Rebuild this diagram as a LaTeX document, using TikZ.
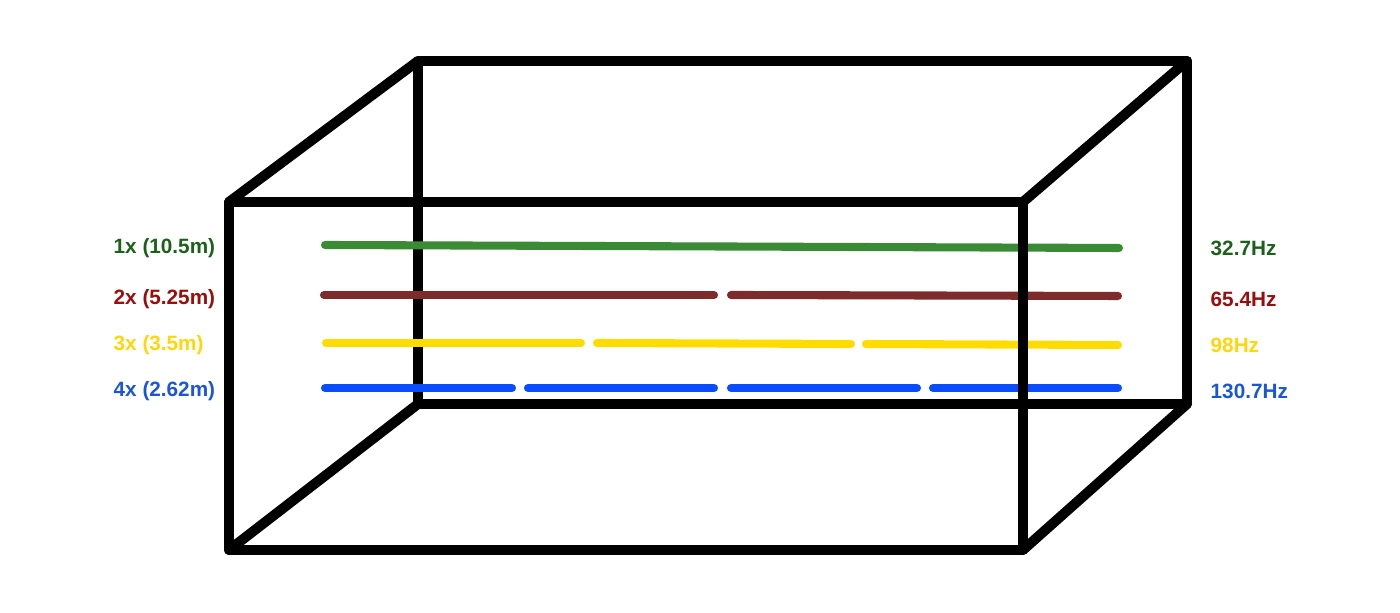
\documentclass[tikz,border=0pt]{standalone}
\usepackage{fontspec}
\setmainfont{Liberation Sans}
\definecolor{lgreen}{HTML}{3B8A35}
\definecolor{tgreen}{HTML}{1C611A}
\definecolor{lred}{HTML}{7D2B2B}
\definecolor{tred}{HTML}{990D0D}
\definecolor{lyellow}{HTML}{FFDC00}
\definecolor{tyellow}{HTML}{FFD60A}
\definecolor{lblue}{HTML}{0A4CFF}
\definecolor{tblue}{HTML}{1A56D8}
\begin{document}
\begin{tikzpicture}[x=1mm,y=1mm,
    edge/.style={line width=2.85pt, line cap=round, line join=round},
    wave/.style={line width=2.3pt, line cap=round},
    lbl/.style={font=\fontsize{5.9}{7}\selectfont\bfseries, inner sep=0pt}]
    \useasboundingbox (0,0) rectangle (140,61.3);

    % box corners
    \coordinate (ftl) at (22.9,41.1);
    \coordinate (ftr) at (102.3,41.1);
    \coordinate (fbr) at (102.3,6.3);
    \coordinate (fbl) at (22.9,6.3);
    \coordinate (btl) at (41.8,55.2);
    \coordinate (btr) at (118.7,55.2);
    \coordinate (bbr) at (118.7,20.9);
    \coordinate (bbl) at (41.8,20.9);

    % back face
    \draw [edge] (btl) -- (btr) -- (bbr) -- (bbl) -- cycle;

    % standing waves
    \draw [wave, lgreen] (32.5,36.8) -- (111.9,36.5);

    \draw [wave, lred] (32.4,31.8) -- (71.4,31.8);
    \draw [wave, lred] (73.1,31.8) -- (111.8,31.7);

    \draw [wave, lyellow] (32.6,27.0) -- (58.1,27.0);
    \draw [wave, lyellow] (59.7,27.0) -- (85.1,26.9);
    \draw [wave, lyellow] (86.6,26.9) -- (111.8,26.8);

    \draw [wave, lblue] (32.5,22.5) -- (51.2,22.5);
    \draw [wave, lblue] (52.8,22.5) -- (71.4,22.5);
    \draw [wave, lblue] (73.1,22.5) -- (91.7,22.5);
    \draw [wave, lblue] (93.3,22.5) -- (111.8,22.5);

    % front face and depth edges
    \draw [edge] (ftl) -- (ftr) -- (fbr) -- (fbl) -- cycle;
    \draw [edge] (ftl) -- (btl);
    \draw [edge] (ftr) -- (btr);
    \draw [edge] (fbr) -- (bbr);
    \draw [edge] (fbl) -- (bbl);

    % labels
    \node [lbl, tgreen, anchor=west] (m1) at (11.3,36.45) {1x (10.5m)};
    \node [lbl, tred, anchor=west] (m2) at (11.3,31.4) {2x (5.25m)};
    \node [lbl, tyellow, anchor=west] (m3) at (11.3,26.8) {3x (3.5m)};
    \node [lbl, tblue, anchor=west] (m4) at (11.3,22.2) {4x (2.62m)};

    \node [lbl, tgreen, anchor=west] (f1) at (121.0,36.45) {32.7Hz};
    \node [lbl, tred, anchor=west] (f2) at (121.0,31.4) {65.4Hz};
    \node [lbl, tyellow, anchor=west] (f3) at (121.0,26.8) {98Hz};
    \node [lbl, tblue, anchor=west] (f4) at (121.0,22.2) {130.7Hz};
\end{tikzpicture}
\end{document}
